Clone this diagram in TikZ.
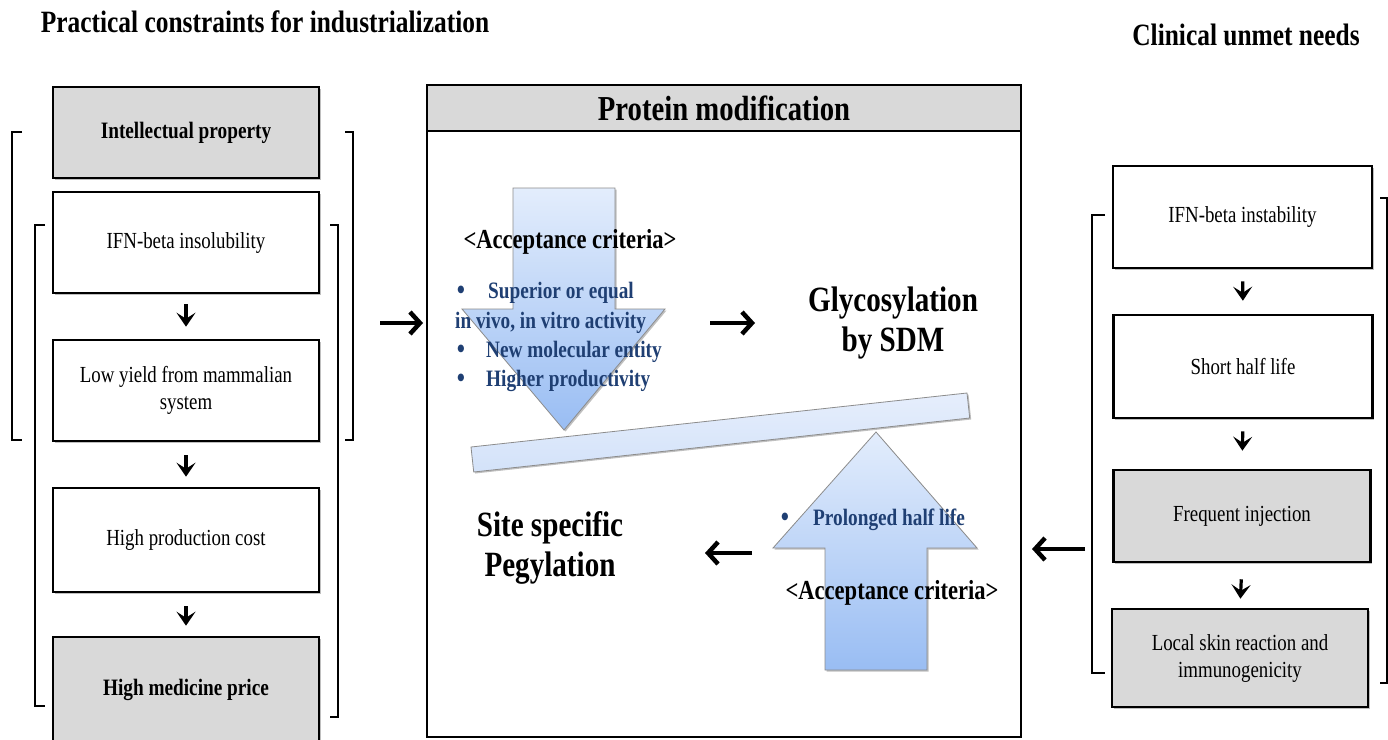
\documentclass[tikz,border=0pt]{standalone}
\usepackage{fontspec}
\setmainfont{Liberation Serif}[FakeStretch=0.82]
\usetikzlibrary{arrows.meta,shadows}
\definecolor{boxgray}{HTML}{D9D9D9}
\definecolor{navytext}{HTML}{1F3F73}
\definecolor{arrowtop}{HTML}{E3EDFC}
\definecolor{arrowbot}{HTML}{99BDF3}
\definecolor{planktop}{HTML}{E6EEFC}
\definecolor{plankbot}{HTML}{D3E2F9}
\definecolor{edgegray}{HTML}{8C8C8C}

\begin{document}
\begin{tikzpicture}[x=1pt,y=-1pt,
  softshadow/.style={drop shadow={shadow xshift=1.5pt,shadow yshift=-1.5pt,fill=black,opacity=0.25}},
  box/.style={draw=black,line width=2.6pt,fill=white,minimum width=266pt,inner sep=0pt,
    align=center,font=\fontsize{23}{27}\selectfont,softshadow},
  graybox/.style={box,fill=boxgray},
  boldtext/.style={font=\fontsize{23.5}{27}\selectfont\bfseries},
  title/.style={font=\fontsize{31}{36}\selectfont\bfseries,inner sep=0pt},
  bigtxt/.style={font=\fontsize{35.5}{40}\selectfont\bfseries,align=center,inner sep=0pt},
  acc/.style={font=\fontsize{27.5}{32}\selectfont\bfseries,inner sep=0pt},
  crit/.style={font=\fontsize{23.5}{28}\selectfont\bfseries,text=navytext,anchor=west,inner sep=0pt},
  dot/.style={font=\fontsize{32}{32}\selectfont,text=navytext,inner sep=0pt},
  smallarr/.style={line width=3.2pt,-{Stealth[length=14pt,width=19pt,inset=6pt]}},
  bigarr/.style={line width=4.5pt,-{Straight Barb[length=10pt,width=22pt]}},
  brk/.style={line width=2.2pt},
  bluearrow/.style={draw=edgegray,line width=0.8pt,top color=arrowtop,bottom color=arrowbot,softshadow},
]
\fill[white] (0,0) rectangle (1388,739);
\useasboundingbox (0,0) rectangle (1388,739);

% column headings
\node[title] (lt) at (265,22) {Practical constraints for industrialization};
\node[title] (rt) at (1246,35) {Clinical unmet needs};

% left column: practical constraints
\node[graybox,minimum height=91pt,boldtext] (ip) at (186,132.5) {Intellectual property};
\node[box,minimum height=101pt] (ins) at (186,242.5) {IFN-beta insolubility};
\node[box,minimum height=101pt] (ly) at (186,390.5) {Low yield from mammalian\\system};
\node[box,minimum height=104pt] (hpc) at (186,540) {High production cost};
\node[graybox,minimum height=106pt,boldtext] (hmp) at (186,690) {High medicine price};

\draw[smallarr,shorten <=10pt,shorten >=12pt] (ins.south) -- (ly.north);
\draw[smallarr,shorten <=13pt,shorten >=10pt] (ly.south) -- (hpc.north);
\draw[smallarr,shorten <=13pt,shorten >=10pt] (hpc.south) -- (hmp.north);

\draw[brk] (22,132) -- (12,132) -- (12,440) -- (22,440);
\draw[brk] (345,132) -- (353,132) -- (353,440) -- (345,440);
\draw[brk] (45,225) -- (35,225) -- (35,706) -- (45,706);
\draw[brk] (330,225) -- (338,225) -- (338,717) -- (330,717);

% right column: clinical unmet needs
\node[box,minimum width=259pt,minimum height=102pt] (inst) at (1242.5,217) {IFN-beta instability};
\node[box,minimum width=259pt,minimum height=103pt] (shl) at (1243,366.5) {Short half life};
\node[graybox,minimum width=257pt,minimum height=92pt] (fi) at (1242,516) {Frequent injection};
\node[graybox,minimum width=256pt,minimum height=98pt] (lsr) at (1240,658) {Local skin reaction and\\immunogenicity};

\draw[smallarr,shorten <=12pt,shorten >=13pt] (inst.south) -- (shl.north);
\draw[smallarr,shorten <=12pt,shorten >=18pt] (shl.south) -- (fi.north);
\draw[smallarr,shorten <=16pt,shorten >=9pt] (fi.south) -- (lsr.north);

\draw[brk] (1105,215) -- (1092,215) -- (1092,673) -- (1105,673);
\draw[brk] (1380,198) -- (1387,198) -- (1387,683) -- (1380,683);

% central panel
\node[draw=black,line width=2.6pt,fill=white,minimum width=594pt,minimum height=652pt,inner sep=0pt] (pm) at (724,411) {};
\node[draw=black,line width=2.6pt,fill=boxgray,minimum width=594pt,minimum height=46pt,inner sep=0pt,
  font=\fontsize{35}{40}\selectfont\bfseries] (pmh) at (724,108) {Protein modification};

% balance beam
\draw[draw=edgegray,line width=0.8pt,top color=planktop,bottom color=plankbot,softshadow]
  (471,447) -- (967,393) -- (969.7,418) -- (473.7,472) -- cycle;

% downward arrow (glycosylation criteria)
\path[bluearrow] (513,188) -- (615,188) -- (615,309) -- (665,309) -- (564,430)
  -- (462,309) -- (513,309) -- cycle;
% upward arrow (pegylation criteria)
\path[bluearrow] (876,432) -- (977,548) -- (927,548) -- (927,670) -- (825,670)
  -- (825,548) -- (773,548) -- cycle;

\node[acc] (acc1) at (570,242) {<Acceptance criteria>};
\node[dot] (d1) at (461,293) {•};
\node[crit] (c1) at (488,293) {Superior or equal};
\node[crit] (c1b) at (455,323) {in vivo, in vitro activity};
\node[dot] (d2) at (461,352) {•};
\node[crit] (c2) at (486,352) {New molecular entity};
\node[dot] (d3) at (461,381) {•};
\node[crit] (c3) at (486,381) {Higher productivity};

\node[bigtxt] (gly) at (893,323) {Glycosylation\\by SDM};
\node[bigtxt] (peg) at (550,548) {Site specific\\Pegylation};

\node[dot] (d4) at (785,520) {•};
\node[crit] (pl) at (813,520) {Prolonged half life};
\node[acc] (acc2) at (892,593) {<Acceptance criteria>};

% flow arrows
\coordinate (inL) at (380,323);
\coordinate (inR) at (423,323);
\draw[bigarr] (inL) -- (inR);
\coordinate (gA) at (710,323);
\coordinate (gB) at (755,323);
\draw[bigarr] (gA) -- (gB);
\coordinate (pA) at (752,553);
\coordinate (pB) at (705,553);
\draw[bigarr] (pA) -- (pB);
\coordinate (rA) at (1085,549);
\coordinate (rB) at (1032,549);
\draw[bigarr] (rA) -- (rB);
\end{tikzpicture}
\end{document}
